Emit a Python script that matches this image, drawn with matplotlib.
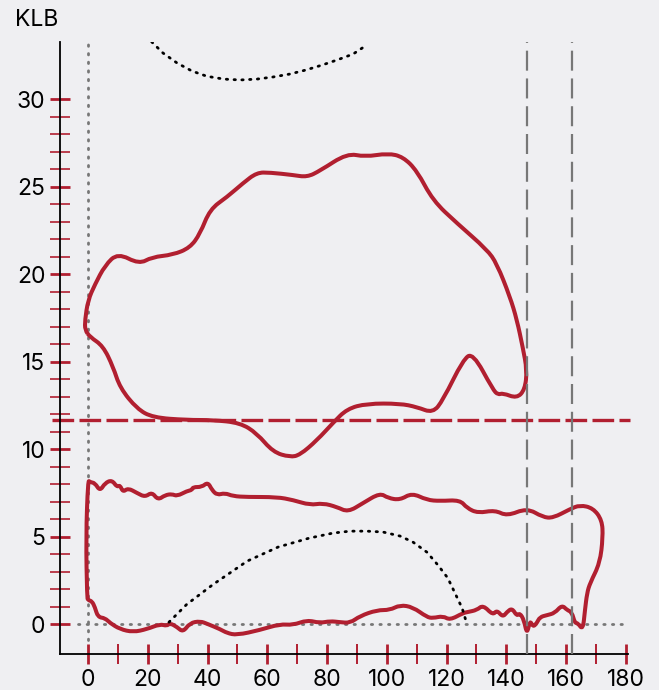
import matplotlib
matplotlib.use("Agg")
import matplotlib.pyplot as plt
import numpy as np
from matplotlib.path import Path
from matplotlib.patches import PathPatch
from matplotlib.ticker import MultipleLocator, FixedLocator

plt.rcParams['font.family'] = ['Inter', 'DejaVu Sans']

# upper closed loop
upper_x = [-1.0, -1.0, 0.0, 2.3, 5.7, 10.0, 17.1, 21.4, 28.4, 34.1, 37.5, 40.8, 46.5,
           51.9, 56.5, 60.9, 68.6, 73.3, 77.6, 86.7, 92.7, 100.4, 105.4, 110.1, 115.4,
           123.5, 133.5, 136.8, 141.2, 143.5, 145.5, 146.9, 146.2, 143.5, 138.8, 137.2,
           135.5, 128.8, 125.5, 118.8, 115.4, 110.1, 104.4, 93.3, 86.7, 82.0, 76.6, 70.9,
           67.6, 61.9, 56.5, 50.9, 41.8, 33.1, 21.7, 16.4, 10.7, 8.4, 5.0, 0.7]
upper_y = [16.8, 17.37, 18.5, 19.4, 20.5, 21.2, 20.57, 20.97, 21.1, 21.5, 22.3, 23.7, 24.4,
           25.2, 25.8, 25.8, 25.66, 25.54, 25.9, 26.9, 26.7, 26.9, 26.7, 25.9, 24.2,
           22.9, 21.4, 20.6, 18.7, 17.4, 15.8, 14.5, 13.4, 12.9, 13.2, 13.1,
           13.4, 15.5, 15.1, 12.8, 12.06, 12.4, 12.6, 12.6, 12.3, 11.5, 10.5, 9.66,
           9.54, 9.83, 10.9, 11.5, 11.66, 11.66, 11.8, 12.3, 13.5, 14.7, 15.9, 16.4]

# lower closed loop
lower_x = [0.0, 0.67, 2.34, 4.0, 5.7, 8.0, 9.7, 10.7, 11.7, 13.4, 16.4, 19.1, 21.4, 23.4,
           25.8, 28.1, 29.8, 33.1, 34.8, 35.1, 38.1, 40.1, 41.5, 43.2, 45.8, 48.5, 53.2,
           63.2, 68.6, 74.3, 78.6, 83.3, 87.0, 92.0, 97.7, 100.4, 104.4, 108.4, 113.4,
           117.8, 124.5, 126.8, 130.5, 136.2, 140.2, 146.9, 152.2, 155.6, 161.3, 164.6,
           169.0, 172.0, 172.3, 171.3, 168.0, 167.0, 166.3, 165.6, 163.9, 162.9, 161.9,
           160.3, 158.6, 156.2, 153.6, 151.2, 150.2, 148.9, 147.9, 146.9, 145.9, 144.5,
           143.5, 141.9, 140.2, 138.8, 136.8, 135.5, 132.2, 130.1, 127.1, 125.5, 121.1,
           118.8, 115.4, 113.4, 108.7, 104.4, 101.0, 96.7, 91.0, 87.7, 84.3, 81.0, 77.6,
           73.3, 68.6, 64.2, 57.5, 49.8, 46.5, 44.2, 40.1, 37.5, 34.1, 31.8, 29.8, 27.4,
           26.4, 24.1, 19.7, 15.1, 10.7, 7.4, 5.7, 3.3, 2.3, 1.3, 0.0, -0.3, -0.67]
lower_y = [8.23, 8.11, 8.06, 7.6, 8.06, 8.23, 7.83, 7.94, 7.54, 7.77, 7.49, 7.26, 7.54, 7.09,
           7.37, 7.43, 7.31, 7.6, 7.66, 7.83, 7.83, 8.11, 7.66, 7.37, 7.49, 7.31, 7.26,
           7.26, 7.09, 6.8, 6.91, 6.69, 6.4, 6.91, 7.49, 7.2, 7.09, 7.49, 7.09,
           7.03, 7.09, 6.63, 6.34, 6.51, 6.17, 6.63, 6.11, 6.06, 6.57, 6.8,
           6.63, 5.94, 4.97, 3.49, 2.34, 1.77, 0.8, -0.34, 0.06, 0.06, 0.69,
           0.8, 1.09, 0.63, 0.51, 0.4, 0.06, -0.17, 0.23, -0.6, 0.23, 0.63,
           0.46, 0.91, 0.69, 0.4, 0.8, 0.51, 1.09, 0.8, 0.69, 0.63, 0.23,
           0.46, 0.34, 0.4, 0.97, 1.09, 0.8, 0.8, 0.46, 0.06, 0.11, 0.17, 0.06,
           0.23, -0.06, 0.0, -0.34, -0.63, -0.51, -0.29, 0.0, 0.17, 0.06, -0.46, -0.17, 0.06,
           -0.11, 0.0, -0.29, -0.46, -0.29, 0.06, 0.34, 0.4, 0.97, 1.31, 1.37, 1.54, 4.97]

# black dotted arcs
arc_low_x = [27.1, 33.0, 41.9, 53.3, 63.6, 74.0, 82.0, 87.7, 93.3, 98.7, 104.4, 108.7,
             113.4, 117.1, 120.4, 122.8, 125.2, 126.8]
arc_low_y = [0.11, 1.12, 2.27, 3.6, 4.4, 4.91, 5.2, 5.31, 5.31, 5.26, 5.03, 4.69,
             4.11, 3.37, 2.63, 1.77, 0.91, 0.0]
arc_top_x = [21.3, 25.1, 29.8, 34.8, 39.8, 45.5, 50.9, 56.5, 61.9, 67.6, 72.9, 78.3,
             83.3, 88.7, 93.3]
arc_top_y = [33.27, 32.63, 32.06, 31.6, 31.3, 31.14, 31.09, 31.14, 31.26, 31.43, 31.66,
             31.94, 32.23, 32.57, 33.09]

limit_y = 11.66
markers_x = [147, 162]

red = '#b11f30'
gray = '#777777'
bg = '#efeff2'


def smooth_loop(xs, ys):
    """closed path: traced points used as quadratic bezier control points"""
    pts = np.column_stack([xs, ys])
    nxt = np.roll(pts, -1, axis=0)
    mids = (pts + nxt) / 2
    verts = [mids[-1]]
    codes = [Path.MOVETO]
    for i in range(len(pts)):
        verts += [pts[i], mids[i]]
        codes += [Path.CURVE3, Path.CURVE3]
    return Path(verts, codes)


fig = plt.figure(figsize=(6.59, 6.9), dpi=100, facecolor=bg)
ax = fig.add_axes([60 / 659, 36 / 690, 568 / 659, 612 / 690])
ax.set_facecolor(bg)

# reference lines under the curves
ax.plot([0, 0], [-0.9, 33.3], color=gray, lw=2, linestyle=(0, (0.5, 2.6)),
        dash_capstyle='round', clip_on=False, zorder=1)
ax.plot([-3.5, 180], [0, 0], color=gray, lw=2, linestyle=(0, (0.5, 2.6)),
        dash_capstyle='round', clip_on=False, zorder=1)

for xs, ys in [(upper_x, upper_y), (lower_x, lower_y)]:
    ax.add_patch(PathPatch(smooth_loop(xs, ys), facecolor='none', edgecolor=red,
                           lw=2.9, joinstyle='round', zorder=2))

ax.plot([-12, 181.5], [limit_y, limit_y], color=red, lw=2.4,
        linestyle=(0, (6.5, 1.6)), clip_on=False, zorder=2)

ax.plot(arc_low_x, arc_low_y, color='black', lw=2, linestyle=(0, (0.5, 2.3)),
        dash_capstyle='round', zorder=3)
ax.plot(arc_top_x, arc_top_y, color='black', lw=2, linestyle=(0, (0.5, 2.3)),
        dash_capstyle='round', zorder=3)

for mx in markers_x:
    ax.axvline(mx, color=gray, lw=1.6, linestyle=(0, (9, 3.5)), zorder=4)

ax.set_xlim(-9.37, 180.7)
ax.set_ylim(-1.71, 33.26)

for side in ['top', 'right']:
    ax.spines[side].set_visible(False)
for side in ['left', 'bottom']:
    ax.spines[side].set_color('black')
    ax.spines[side].set_linewidth(1.3)

ax.xaxis.set_major_locator(MultipleLocator(20))
ax.xaxis.set_minor_locator(MultipleLocator(10))
ax.yaxis.set_major_locator(FixedLocator(range(0, 31, 5)))
ax.yaxis.set_minor_locator(FixedLocator([v for v in range(0, 31) if v % 5]))

ax.tick_params(which='major', direction='inout', length=15, width=2, color=red,
               labelsize=16.5, labelcolor='black', pad=3)
ax.tick_params(which='minor', direction='inout', length=15, width=1.2, color=red)
ax.tick_params(axis='x', which='minor', width=1.4)

fig.text(15 / 659, 1 - 20 / 690, 'KLB', fontsize=16.5, va='center', ha='left')

plt.savefig('out.png', dpi=100, facecolor=bg)
